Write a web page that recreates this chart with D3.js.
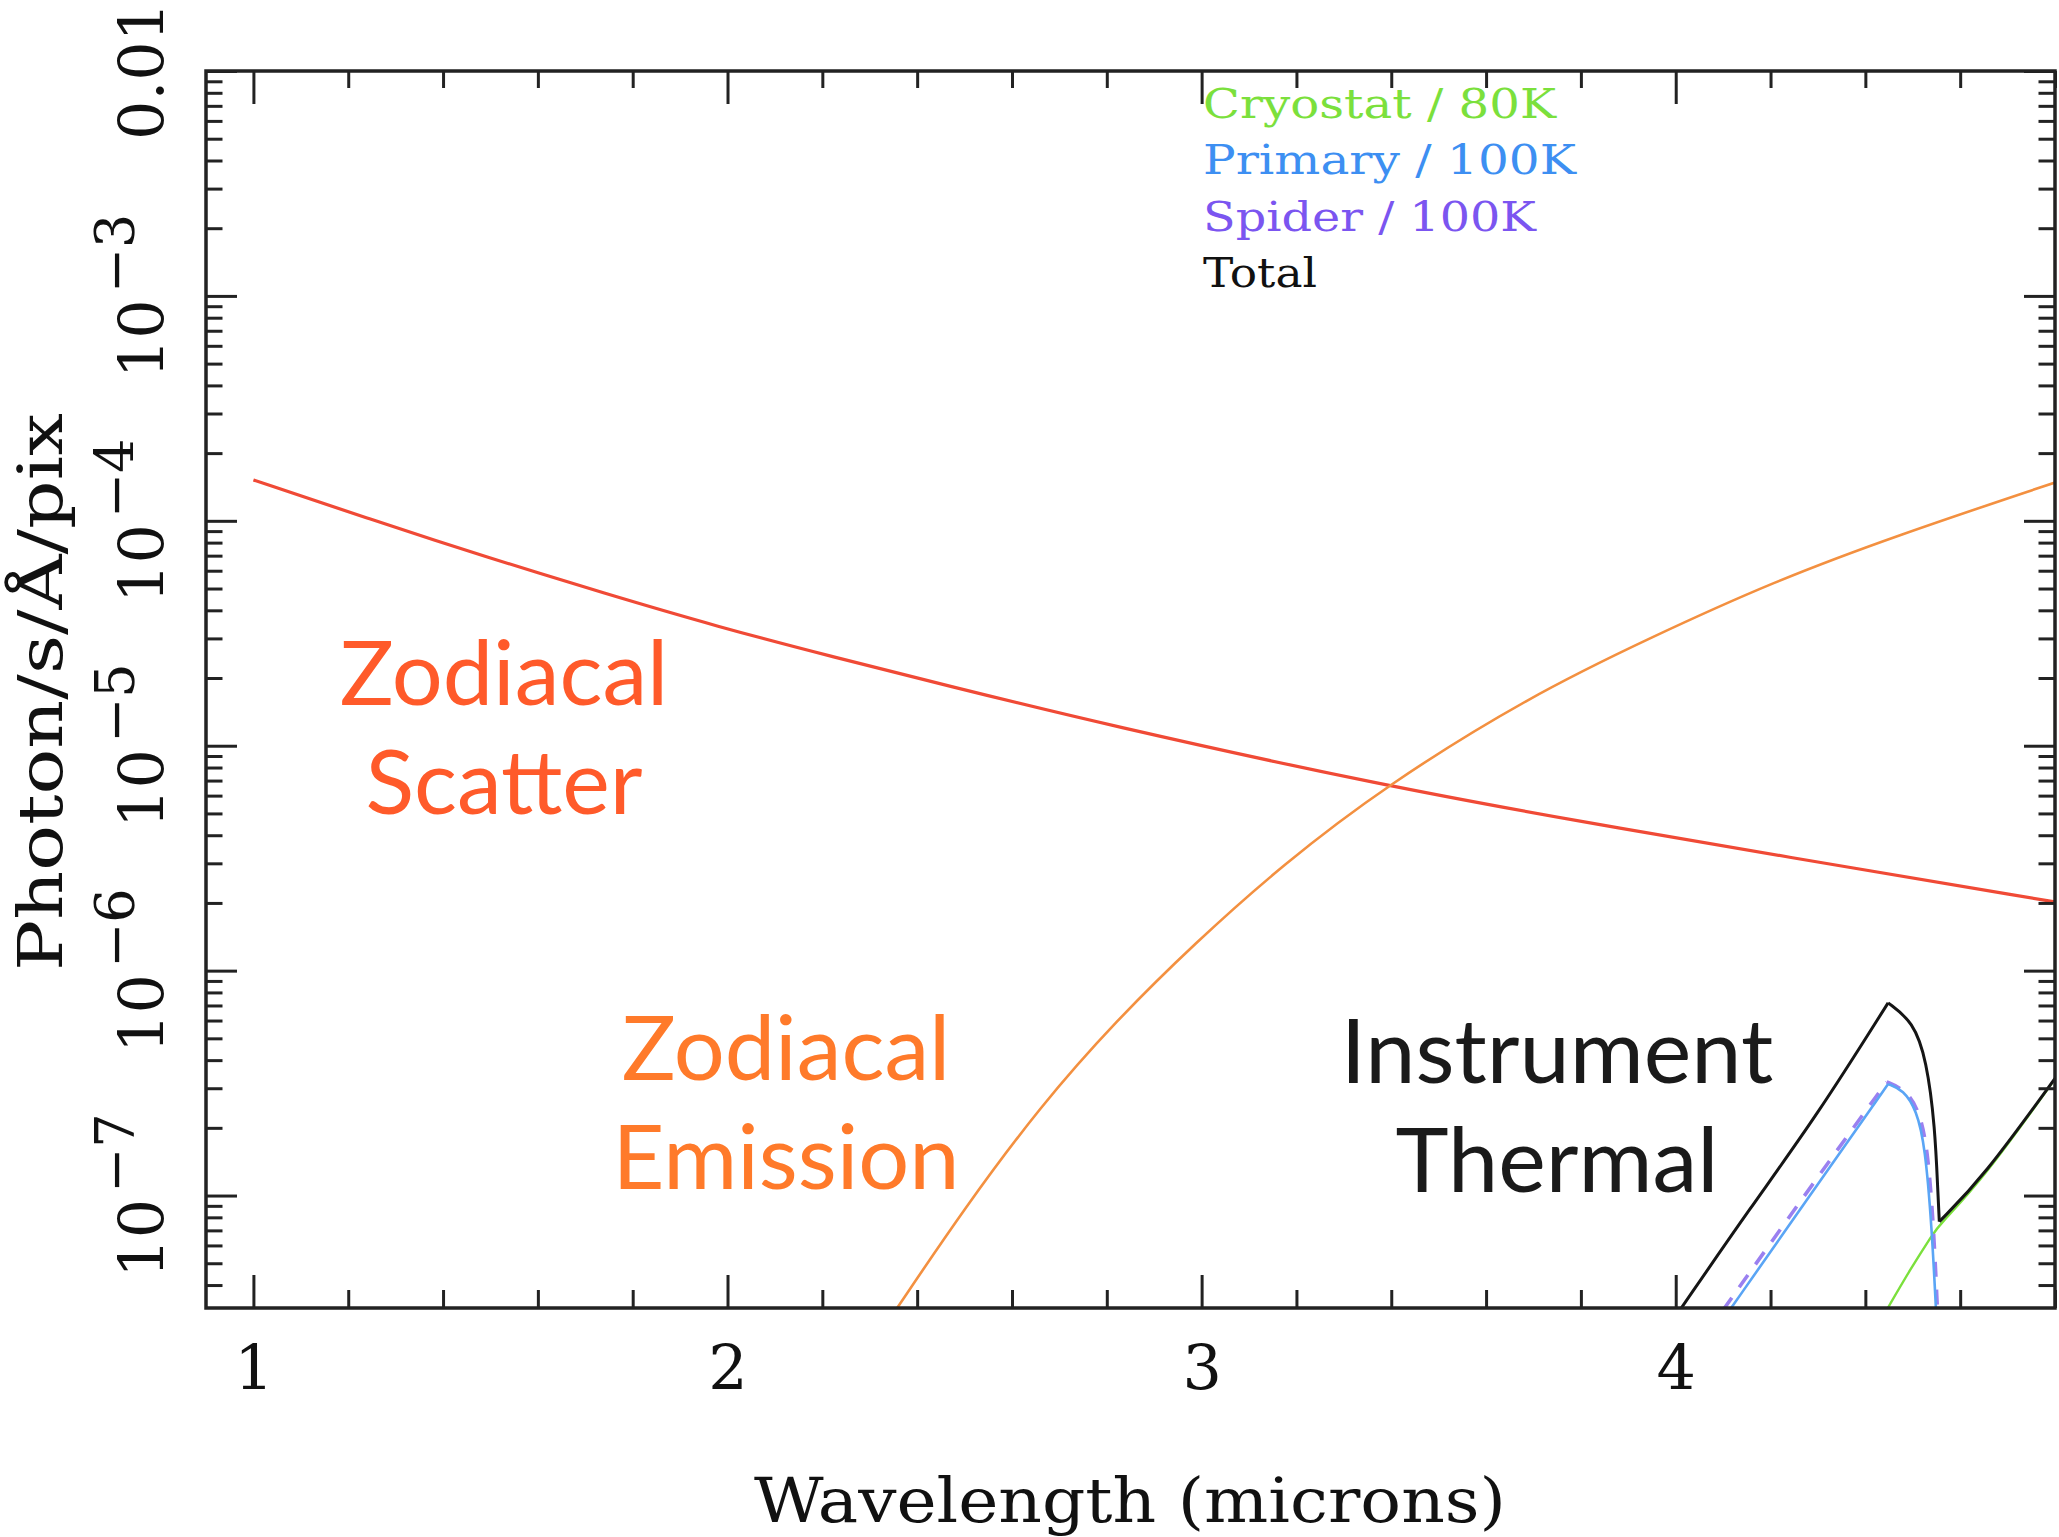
<!DOCTYPE html>
<html>
<head>
<meta charset="utf-8">
<script src="https://cdn.jsdelivr.net/npm/d3@7"></script>
<style>
  body { margin: 0; background: #fff; }
  svg { display: block; }
</style>
</head>
<body>
<script>
// 刻度
const xMajorTicks = [1, 2, 3, 4];
const yDecadeTicks = [-2, -3, -4, -5, -6, -7];

// 曲线数据 [wavelength (micron), photon/s/Å/pix]
const zodiScatter = [
    [1.00, 1.52e-4], [1.25, 1.01e-4], [1.49, 6.92e-5], [1.74, 4.76e-5],
    [1.98, 3.38e-5], [2.22, 2.49e-5], [2.46, 1.86e-5], [2.79, 1.25e-5],
    [3.39, 6.59e-6], [3.82, 4.52e-6], [4.21, 3.27e-6], [4.80, 2.02e-6]
];
const zodiEmission = [
    [2.355, 3.1e-8], [2.50, 8.8e-8], [2.66, 2.5e-7], [2.82, 6.0e-7],
    [2.985, 1.32e-6], [3.17, 2.95e-6], [3.39, 6.68e-6], [3.69, 1.65e-5],
    [3.95, 3.05e-5], [4.205, 5.35e-5], [4.463, 8.56e-5], [4.80, 1.48e-4]
];
const totalThermal = [
    [4.009, 3.1e-8], [4.157, 8.8e-8], [4.297, 2.25e-7], [4.448, 7.19e-7],
    [4.501, 5.93e-7], [4.529, 4.01e-7], [4.547, 2.02e-7], [4.553, 1.02e-7],
    [4.556, 7.66e-8], [4.649, 1.21e-7], [4.80, 3.32e-7]
];
const primaryThermal = [
    [4.114, 3.1e-8], [4.283, 1.0e-7], [4.448, 3.13e-7], [4.480, 2.95e-7],
    [4.508, 2.40e-7], [4.526, 1.65e-7], [4.540, 7.27e-8], [4.549, 3.1e-8]
];
const spiderThermal = [
    [4.100, 3.1e-8], [4.277, 1.04e-7], [4.445, 3.2e-7], [4.485, 2.95e-7],
    [4.513, 2.4e-7], [4.531, 1.65e-7], [4.544, 7.3e-8], [4.552, 3.1e-8]
];
const cryostatThermal = [
    [4.445, 3.1e-8], [4.494, 4.67e-8], [4.543, 6.79e-8], [4.556, 7.4e-8],
    [4.649, 1.19e-7], [4.80, 3.3e-7]
];

// 图例
const legendNames = ['Cryostat / 80K', 'Primary / 100K', 'Spider / 100K', 'Total'];
const legendColors = ['#7be03c', '#3d8ff2', '#7b55f0', '#111'];
const legendWidths = [353, 373, 333, 114];

// 布局
const width = 2059;
const height = 1537;
const plot = {left: 206, right: 2055, top: 71, bottom: 1308};
const axisColor = '#222';
const serif = '"DejaVu Serif", "Liberation Serif", serif';
const sans = 'Lato, "Open Sans", sans-serif';

const svg = d3.select('body')
    .append('svg')
    .attr('width', width)
    .attr('height', height);

const xScale = d3.scaleLinear()
    .domain([0.9, 4.8])
    .range([plot.left, plot.right]);

const yScale = d3.scaleLog()
    .domain([Math.pow(10, -7.5), 0.01])
    .range([plot.bottom, plot.top]);

svg.append('clipPath')
    .attr('id', 'clip')
    .append('rect')
    .attr('x', plot.left)
    .attr('y', plot.top)
    .attr('width', plot.right - plot.left)
    .attr('height', plot.bottom - plot.top);

// 在峰值/谷值处断开，保持尖角
function pieces(pts) {
    const out = [];
    let cur = [pts[0]];
    for (let i = 1; i < pts.length; i++) {
        cur.push(pts[i]);
        if (i < pts.length - 1) {
            const a = pts[i - 1][1], b = pts[i][1], c = pts[i + 1][1];
            if ((b > a && b > c) || (b < a && b < c)) {
                out.push(cur);
                cur = [pts[i]];
            }
        }
    }
    out.push(cur);
    return out;
}

const line = d3.line()
    .x(d => xScale(d[0]))
    .y(d => yScale(d[1]))
    .curve(d3.curveBasis);

const curves = svg.append('g').attr('clip-path', 'url(#clip)');

function drawSeries(data, color, w, dash) {
    pieces(data).forEach(p => {
        curves.append('path')
            .attr('d', line(p))
            .attr('fill', 'none')
            .attr('stroke', color)
            .attr('stroke-width', w)
            .attr('stroke-dasharray', dash || null)
            .attr('stroke-linejoin', 'round');
    });
}

drawSeries(zodiScatter, '#f04a36', 3.2);
drawSeries(zodiEmission, '#f39040', 2.6);
drawSeries(cryostatThermal, '#7be03c', 2.4);
drawSeries(spiderThermal, '#9a80f0', 3.6, '15,13');
drawSeries(primaryThermal, '#5aa5f5', 2.6);
drawSeries(totalThermal, '#151515', 3);

// 坐标轴刻度
const xMinor = xScale.ticks(20).filter(v => xMajorTicks.indexOf(Math.round(v * 10) / 10) < 0);
const yAll = yScale.ticks();
const yMinor = yAll.filter(v => Math.abs(Math.log10(v) - Math.round(Math.log10(v))) > 1e-6);
const yMajor = yDecadeTicks.map(e => Math.pow(10, e));

function styleTicks(g) {
    g.select('.domain').remove();
    g.selectAll('line').attr('stroke', axisColor).attr('stroke-width', 3);
}

svg.append('g')
    .attr('transform', 'translate(0,' + plot.bottom + ')')
    .call(d3.axisBottom(xScale).tickValues(xMinor).tickSize(-18).tickFormat(''))
    .call(styleTicks);
svg.append('g')
    .attr('transform', 'translate(0,' + plot.top + ')')
    .call(d3.axisTop(xScale).tickValues(xMinor).tickSize(-17).tickFormat(''))
    .call(styleTicks);
svg.append('g')
    .attr('transform', 'translate(0,' + plot.top + ')')
    .call(d3.axisTop(xScale).tickValues(xMajorTicks).tickSize(-33).tickFormat(''))
    .call(styleTicks);

const xAxis = svg.append('g')
    .attr('transform', 'translate(0,' + plot.bottom + ')')
    .call(d3.axisBottom(xScale).tickValues(xMajorTicks).tickSize(-33).tickPadding(37).tickFormat(d3.format('d')))
    .call(styleTicks);
xAxis.selectAll('text')
    .attr('font-family', serif)
    .attr('font-size', 62)
    .attr('fill', '#111');

svg.append('g')
    .attr('transform', 'translate(' + plot.left + ',0)')
    .call(d3.axisLeft(yScale).tickValues(yMinor).tickSize(-16.5).tickFormat(''))
    .call(styleTicks);
svg.append('g')
    .attr('transform', 'translate(' + plot.left + ',0)')
    .call(d3.axisLeft(yScale).tickValues(yMajor).tickSize(-31).tickFormat(''))
    .call(styleTicks);
svg.append('g')
    .attr('transform', 'translate(' + plot.right + ',0)')
    .call(d3.axisRight(yScale).tickValues(yMinor).tickSize(-16.5).tickFormat(''))
    .call(styleTicks);
svg.append('g')
    .attr('transform', 'translate(' + plot.right + ',0)')
    .call(d3.axisRight(yScale).tickValues(yMajor).tickSize(-31).tickFormat(''))
    .call(styleTicks);

// 边框
svg.append('rect')
    .attr('x', plot.left)
    .attr('y', plot.top)
    .attr('width', plot.right - plot.left)
    .attr('height', plot.bottom - plot.top)
    .attr('fill', 'none')
    .attr('stroke', axisColor)
    .attr('stroke-width', 3.5);

// y 轴标签 (竖排)
yDecadeTicks.forEach(e => {
    const t = svg.append('text')
        .attr('transform', 'translate(163,' + yScale(Math.pow(10, e)) + ') rotate(-90)')
        .attr('text-anchor', 'middle')
        .attr('font-family', serif)
        .attr('font-size', 62)
        .attr('fill', '#111');
    if (e === -2) {
        t.text('0.01');
    } else {
        t.append('tspan').text('10');
        t.append('tspan')
            .attr('dy', -29)
            .attr('dx', 6)
            .attr('font-size', 54)
            .text('\u2212' + (-e));
    }
});

// 坐标轴标题
svg.append('text')
    .attr('x', 1130)
    .attr('y', 1522)
    .attr('text-anchor', 'middle')
    .attr('font-family', serif)
    .attr('font-size', 62)
    .attr('textLength', 752)
    .attr('lengthAdjust', 'spacingAndGlyphs')
    .attr('fill', '#111')
    .text('Wavelength (microns)');

svg.append('text')
    .attr('transform', 'translate(62,692) rotate(-90)')
    .attr('text-anchor', 'middle')
    .attr('font-family', serif)
    .attr('font-size', 62)
    .attr('textLength', 558)
    .attr('lengthAdjust', 'spacingAndGlyphs')
    .attr('fill', '#111')
    .text('Photon/s/\u00c5/pix');

// 图例
legendNames.forEach((name, i) => {
    svg.append('text')
        .attr('x', 1203)
        .attr('y', 118 + i * 56.4)
        .attr('font-family', serif)
        .attr('font-size', 41)
        .attr('textLength', legendWidths[i])
        .attr('lengthAdjust', 'spacingAndGlyphs')
        .attr('fill', legendColors[i])
        .text(name);
});

// 注释
const notes = [
    {lines: ['Zodiacal', 'Scatter'], x: 504, y: 705, color: '#ff5a2a'},
    {lines: ['Zodiacal', 'Emission'], x: 786, y: 1080, color: '#ff7a2a'},
    {lines: ['Instrument', 'Thermal'], x: 1557, y: 1083, color: '#1a1a1a'}
];
notes.forEach(n => {
    n.lines.forEach((s, i) => {
        svg.append('text')
            .attr('x', n.x)
            .attr('y', n.y + i * 109)
            .attr('text-anchor', 'middle')
            .attr('font-family', sans)
            .attr('font-size', 90)
            .attr('fill', n.color)
            .text(s);
    });
});
</script>
</body>
</html>
